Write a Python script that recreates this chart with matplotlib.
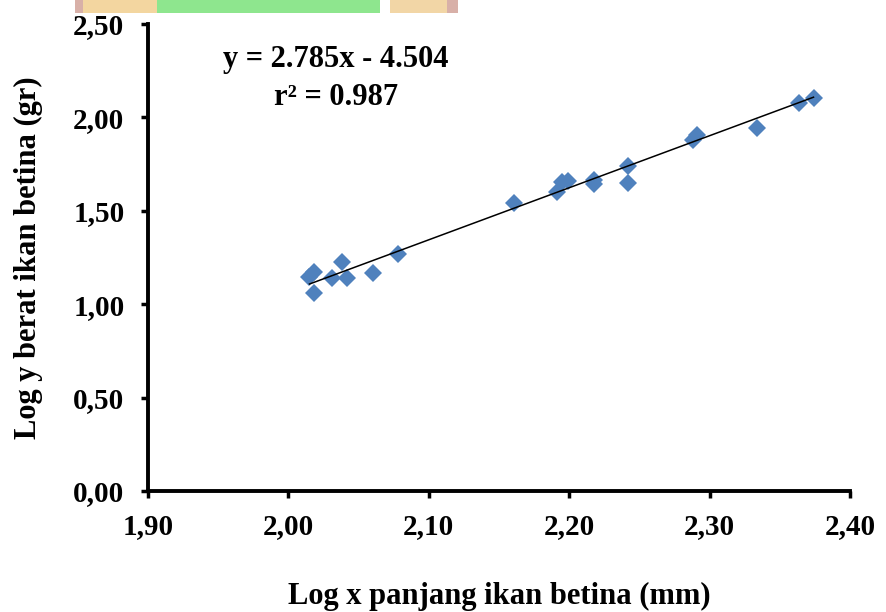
import matplotlib.pyplot as plt
import matplotlib.patches as mpatches
import numpy as np

# log panjang (x) dan log berat (y) ikan betina
log_panjang = [2.015, 2.018, 2.018, 2.031, 2.038, 2.042, 2.060, 2.078,
               2.161, 2.191, 2.195, 2.199, 2.218, 2.218, 2.242, 2.242,
               2.288, 2.291, 2.334, 2.364, 2.374]
log_berat = [1.147, 1.061, 1.170, 1.141, 1.225, 1.141, 1.168, 1.270,
             1.540, 1.600, 1.656, 1.660, 1.667, 1.645, 1.740, 1.650,
             1.880, 1.905, 1.945, 2.075, 2.105]
slope, intercept = 2.785, -4.504
xticks = [1.90, 2.00, 2.10, 2.20, 2.30, 2.40]
yticks = [0.00, 0.50, 1.00, 1.50, 2.00, 2.50]

plt.rcParams['font.family'] = ['Liberation Serif', 'DejaVu Serif']
plt.rcParams['font.weight'] = 'bold'

fig = plt.figure(figsize=(8.87, 6.12), dpi=100)
ax = fig.add_axes([0.1669, 0.1977, 0.7914, 0.7633])

xl = np.array([min(log_panjang), max(log_panjang)])
ax.plot(xl, slope * xl + intercept, color='black', lw=1.1, zorder=3)
ax.plot(log_panjang, log_berat, 'D', color='#4F81BD', markersize=9,
        markeredgewidth=0, zorder=2)

ax.set_xlim(1.90, 2.40)
ax.set_ylim(0, 2.5)
ax.set_xticks(xticks)
ax.set_yticks(yticks)
ax.set_xticklabels([f'{v:.2f}'.replace('.', ',') for v in xticks])
ax.set_yticklabels([f'{v:.2f}'.replace('.', ',') for v in yticks])
ax.tick_params(labelsize=21, width=2.5, length=5, direction='out')
ax.tick_params(axis='y', pad=12)
ax.tick_params(axis='x', pad=11)

for s in ['top', 'right']:
    ax.spines[s].set_visible(False)
for s in ['left', 'bottom']:
    ax.spines[s].set_linewidth(2.8)

ax.set_xlabel('Log x panjang ikan betina (mm)', fontsize=22, fontweight='bold', labelpad=30)
ax.set_ylabel('Log y berat ikan betina (gr)', fontsize=22, fontweight='bold', labelpad=22)

ax.text(0.268, 0.923, 'y = 2.785x - 4.504', transform=ax.transAxes,
        ha='center', va='center', fontsize=22, fontweight='bold')
ax.text(0.268, 0.842, 'r² = 0.987', transform=ax.transAxes,
        ha='center', va='center', fontsize=22, fontweight='bold')

# potongan warna dari dokumen asli di tepi atas
W, H = 887, 612
for x0, x1, c in [(75, 83, '#D8B0A8'), (83, 157, '#F3D6A0'), (157, 380, '#8EE68E'),
                  (390, 447, '#F2D6A6'), (447, 458, '#D8B0A8')]:
    fig.patches.append(mpatches.Rectangle((x0 / W, 1 - 13 / H), (x1 - x0) / W, 13 / H,
                                          transform=fig.transFigure, color=c, lw=0))

fig.savefig('out.png', dpi=100)
